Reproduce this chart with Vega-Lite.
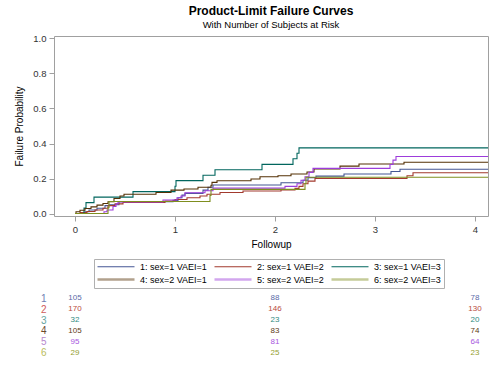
{
  "$schema": "https://vega.github.io/schema/vega-lite/v6.json",
  "background": "white",
  "padding": {"left": 14, "top": 4, "right": 8, "bottom": 4},
  "config": {
    "font": "Liberation Sans",
    "view": {"stroke": null},
    "axis": {"labelColor": "#333333", "titleColor": "#000000", "labelFont": "Liberation Sans", "titleFont": "Liberation Sans", "titleFontWeight": "normal", "labelFontSize": 9.5, "titleFontSize": 10, "tickColor": "#a0a0a0", "domainColor": "#a0a0a0", "grid": false}
  },
  "datasets": {
    "curves": [
      {"g": "1: sex=1 VAEI=1", "t": 0, "p": 0},
      {"g": "1: sex=1 VAEI=1", "t": 0.06, "p": 0.005},
      {"g": "1: sex=1 VAEI=1", "t": 0.10, "p": 0.01},
      {"g": "1: sex=1 VAEI=1", "t": 0.14, "p": 0.02},
      {"g": "1: sex=1 VAEI=1", "t": 0.22, "p": 0.03},
      {"g": "1: sex=1 VAEI=1", "t": 0.30, "p": 0.045},
      {"g": "1: sex=1 VAEI=1", "t": 0.34, "p": 0.05},
      {"g": "1: sex=1 VAEI=1", "t": 0.44, "p": 0.067},
      {"g": "1: sex=1 VAEI=1", "t": 0.98, "p": 0.075},
      {"g": "1: sex=1 VAEI=1", "t": 1.03, "p": 0.09},
      {"g": "1: sex=1 VAEI=1", "t": 1.07, "p": 0.105},
      {"g": "1: sex=1 VAEI=1", "t": 1.10, "p": 0.115},
      {"g": "1: sex=1 VAEI=1", "t": 1.28, "p": 0.134},
      {"g": "1: sex=1 VAEI=1", "t": 1.33, "p": 0.15},
      {"g": "1: sex=1 VAEI=1", "t": 1.38, "p": 0.163},
      {"g": "1: sex=1 VAEI=1", "t": 2.06, "p": 0.176},
      {"g": "1: sex=1 VAEI=1", "t": 2.28, "p": 0.19},
      {"g": "1: sex=1 VAEI=1", "t": 2.33, "p": 0.205},
      {"g": "1: sex=1 VAEI=1", "t": 2.41, "p": 0.214},
      {"g": "1: sex=1 VAEI=1", "t": 2.69, "p": 0.226},
      {"g": "1: sex=1 VAEI=1", "t": 3.16, "p": 0.24},
      {"g": "1: sex=1 VAEI=1", "t": 3.25, "p": 0.253},
      {"g": "1: sex=1 VAEI=1", "t": 4.13, "p": 0.253},
      {"g": "2: sex=1 VAEI=2", "t": 0, "p": 0},
      {"g": "2: sex=1 VAEI=2", "t": 0.05, "p": 0.006},
      {"g": "2: sex=1 VAEI=2", "t": 0.12, "p": 0.012},
      {"g": "2: sex=1 VAEI=2", "t": 0.20, "p": 0.02},
      {"g": "2: sex=1 VAEI=2", "t": 0.28, "p": 0.03},
      {"g": "2: sex=1 VAEI=2", "t": 0.33, "p": 0.045},
      {"g": "2: sex=1 VAEI=2", "t": 0.40, "p": 0.055},
      {"g": "2: sex=1 VAEI=2", "t": 0.48, "p": 0.063},
      {"g": "2: sex=1 VAEI=2", "t": 0.90, "p": 0.072},
      {"g": "2: sex=1 VAEI=2", "t": 1.00, "p": 0.08},
      {"g": "2: sex=1 VAEI=2", "t": 1.12, "p": 0.09},
      {"g": "2: sex=1 VAEI=2", "t": 1.25, "p": 0.1},
      {"g": "2: sex=1 VAEI=2", "t": 1.32, "p": 0.11},
      {"g": "2: sex=1 VAEI=2", "t": 1.45, "p": 0.12},
      {"g": "2: sex=1 VAEI=2", "t": 1.68, "p": 0.129},
      {"g": "2: sex=1 VAEI=2", "t": 2.06, "p": 0.135},
      {"g": "2: sex=1 VAEI=2", "t": 2.20, "p": 0.144},
      {"g": "2: sex=1 VAEI=2", "t": 2.24, "p": 0.155},
      {"g": "2: sex=1 VAEI=2", "t": 2.28, "p": 0.17},
      {"g": "2: sex=1 VAEI=2", "t": 2.33, "p": 0.185},
      {"g": "2: sex=1 VAEI=2", "t": 2.40, "p": 0.2},
      {"g": "2: sex=1 VAEI=2", "t": 3.32, "p": 0.216},
      {"g": "2: sex=1 VAEI=2", "t": 3.38, "p": 0.233},
      {"g": "2: sex=1 VAEI=2", "t": 4.13, "p": 0.233},
      {"g": "3: sex=1 VAEI=3", "t": 0, "p": 0},
      {"g": "3: sex=1 VAEI=3", "t": 0.09, "p": 0.031},
      {"g": "3: sex=1 VAEI=3", "t": 0.11, "p": 0.0625},
      {"g": "3: sex=1 VAEI=3", "t": 0.19, "p": 0.094},
      {"g": "3: sex=1 VAEI=3", "t": 0.58, "p": 0.125},
      {"g": "3: sex=1 VAEI=3", "t": 1.00, "p": 0.156},
      {"g": "3: sex=1 VAEI=3", "t": 1.01, "p": 0.188},
      {"g": "3: sex=1 VAEI=3", "t": 1.28, "p": 0.219},
      {"g": "3: sex=1 VAEI=3", "t": 1.40, "p": 0.25},
      {"g": "3: sex=1 VAEI=3", "t": 1.87, "p": 0.281},
      {"g": "3: sex=1 VAEI=3", "t": 2.18, "p": 0.313},
      {"g": "3: sex=1 VAEI=3", "t": 2.22, "p": 0.344},
      {"g": "3: sex=1 VAEI=3", "t": 2.24, "p": 0.375},
      {"g": "3: sex=1 VAEI=3", "t": 4.13, "p": 0.375},
      {"g": "4: sex=2 VAEI=1", "t": 0, "p": 0},
      {"g": "4: sex=2 VAEI=1", "t": 0.01, "p": 0.01},
      {"g": "4: sex=2 VAEI=1", "t": 0.05, "p": 0.019},
      {"g": "4: sex=2 VAEI=1", "t": 0.10, "p": 0.029},
      {"g": "4: sex=2 VAEI=1", "t": 0.16, "p": 0.038},
      {"g": "4: sex=2 VAEI=1", "t": 0.22, "p": 0.048},
      {"g": "4: sex=2 VAEI=1", "t": 0.28, "p": 0.057},
      {"g": "4: sex=2 VAEI=1", "t": 0.33, "p": 0.067},
      {"g": "4: sex=2 VAEI=1", "t": 0.39, "p": 0.086},
      {"g": "4: sex=2 VAEI=1", "t": 0.45, "p": 0.1},
      {"g": "4: sex=2 VAEI=1", "t": 0.49, "p": 0.11},
      {"g": "4: sex=2 VAEI=1", "t": 0.81, "p": 0.12},
      {"g": "4: sex=2 VAEI=1", "t": 0.96, "p": 0.134},
      {"g": "4: sex=2 VAEI=1", "t": 1.09, "p": 0.14},
      {"g": "4: sex=2 VAEI=1", "t": 1.23, "p": 0.15},
      {"g": "4: sex=2 VAEI=1", "t": 1.36, "p": 0.162},
      {"g": "4: sex=2 VAEI=1", "t": 1.37, "p": 0.178},
      {"g": "4: sex=2 VAEI=1", "t": 1.42, "p": 0.187},
      {"g": "4: sex=2 VAEI=1", "t": 1.76, "p": 0.197},
      {"g": "4: sex=2 VAEI=1", "t": 1.85, "p": 0.21},
      {"g": "4: sex=2 VAEI=1", "t": 2.03, "p": 0.216},
      {"g": "4: sex=2 VAEI=1", "t": 2.16, "p": 0.226},
      {"g": "4: sex=2 VAEI=1", "t": 2.32, "p": 0.237},
      {"g": "4: sex=2 VAEI=1", "t": 2.39, "p": 0.254},
      {"g": "4: sex=2 VAEI=1", "t": 2.65, "p": 0.271},
      {"g": "4: sex=2 VAEI=1", "t": 2.84, "p": 0.283},
      {"g": "4: sex=2 VAEI=1", "t": 3.29, "p": 0.293},
      {"g": "4: sex=2 VAEI=1", "t": 4.13, "p": 0.293},
      {"g": "5: sex=2 VAEI=2", "t": 0, "p": 0},
      {"g": "5: sex=2 VAEI=2", "t": 0.29, "p": 0.01},
      {"g": "5: sex=2 VAEI=2", "t": 0.32, "p": 0.02},
      {"g": "5: sex=2 VAEI=2", "t": 0.38, "p": 0.04},
      {"g": "5: sex=2 VAEI=2", "t": 0.41, "p": 0.055},
      {"g": "5: sex=2 VAEI=2", "t": 0.43, "p": 0.066},
      {"g": "5: sex=2 VAEI=2", "t": 0.88, "p": 0.077},
      {"g": "5: sex=2 VAEI=2", "t": 1.02, "p": 0.09},
      {"g": "5: sex=2 VAEI=2", "t": 1.06, "p": 0.1},
      {"g": "5: sex=2 VAEI=2", "t": 1.10, "p": 0.119},
      {"g": "5: sex=2 VAEI=2", "t": 1.30, "p": 0.13},
      {"g": "5: sex=2 VAEI=2", "t": 1.38, "p": 0.145},
      {"g": "5: sex=2 VAEI=2", "t": 2.10, "p": 0.155},
      {"g": "5: sex=2 VAEI=2", "t": 2.22, "p": 0.17},
      {"g": "5: sex=2 VAEI=2", "t": 2.26, "p": 0.19},
      {"g": "5: sex=2 VAEI=2", "t": 2.30, "p": 0.21},
      {"g": "5: sex=2 VAEI=2", "t": 2.34, "p": 0.235},
      {"g": "5: sex=2 VAEI=2", "t": 2.38, "p": 0.258},
      {"g": "5: sex=2 VAEI=2", "t": 3.15, "p": 0.28},
      {"g": "5: sex=2 VAEI=2", "t": 3.18, "p": 0.305},
      {"g": "5: sex=2 VAEI=2", "t": 3.21, "p": 0.326},
      {"g": "5: sex=2 VAEI=2", "t": 4.13, "p": 0.326},
      {"g": "6: sex=2 VAEI=3", "t": 0, "p": 0},
      {"g": "6: sex=2 VAEI=3", "t": 0.33, "p": 0.034},
      {"g": "6: sex=2 VAEI=3", "t": 0.34, "p": 0.069},
      {"g": "6: sex=2 VAEI=3", "t": 1.35, "p": 0.103},
      {"g": "6: sex=2 VAEI=3", "t": 1.36, "p": 0.138},
      {"g": "6: sex=2 VAEI=3", "t": 2.30, "p": 0.172},
      {"g": "6: sex=2 VAEI=3", "t": 2.31, "p": 0.207},
      {"g": "6: sex=2 VAEI=3", "t": 4.13, "p": 0.207}
    ],
    "risk": [
      {"g": "1: sex=1 VAEI=1", "t": 0, "n": 105},
      {"g": "1: sex=1 VAEI=1", "t": 2, "n": 88},
      {"g": "1: sex=1 VAEI=1", "t": 4, "n": 78},
      {"g": "2: sex=1 VAEI=2", "t": 0, "n": 170},
      {"g": "2: sex=1 VAEI=2", "t": 2, "n": 146},
      {"g": "2: sex=1 VAEI=2", "t": 4, "n": 130},
      {"g": "3: sex=1 VAEI=3", "t": 0, "n": 32},
      {"g": "3: sex=1 VAEI=3", "t": 2, "n": 23},
      {"g": "3: sex=1 VAEI=3", "t": 4, "n": 20},
      {"g": "4: sex=2 VAEI=1", "t": 0, "n": 105},
      {"g": "4: sex=2 VAEI=1", "t": 2, "n": 83},
      {"g": "4: sex=2 VAEI=1", "t": 4, "n": 74},
      {"g": "5: sex=2 VAEI=2", "t": 0, "n": 95},
      {"g": "5: sex=2 VAEI=2", "t": 2, "n": 81},
      {"g": "5: sex=2 VAEI=2", "t": 4, "n": 64},
      {"g": "6: sex=2 VAEI=3", "t": 0, "n": 29},
      {"g": "6: sex=2 VAEI=3", "t": 2, "n": 25},
      {"g": "6: sex=2 VAEI=3", "t": 4, "n": 23}
    ]
  },
  "vconcat": [
    {
      "title": {"text": "Product-Limit Failure Curves", "subtitle": "With Number of Subjects at Risk", "fontSize": 12, "fontWeight": "bold", "subtitleFontSize": 9.5, "anchor": "middle", "frame": "group", "offset": 3, "subtitlePadding": 2, "color": "#000000", "subtitleColor": "#000000", "font": "Liberation Sans", "subtitleFont": "Liberation Sans"},
      "width": 434,
      "height": 180,
      "view": {"stroke": "#a0a0a0"},
      "data": {"name": "curves"},
      "mark": {"type": "line", "interpolate": "step-after", "strokeWidth": 1.1, "clip": true},
      "encoding": {
        "x": {"field": "t", "type": "quantitative", "scale": {"domain": [-0.21, 4.13], "nice": false, "zero": false}, "axis": {"values": [0, 1, 2, 3, 4], "title": "Followup", "domain": false, "tickSize": 5, "labelPadding": 3, "titlePadding": 6}},
        "y": {"field": "p", "type": "quantitative", "scale": {"domain": [-0.014, 1.014], "nice": false, "zero": false}, "axis": {"values": [0, 0.2, 0.4, 0.6, 0.8, 1.0], "format": ".1f", "title": "Failure Probability", "domain": false, "tickSize": 5, "labelPadding": 3, "titlePadding": 8}},
        "color": {
          "field": "g", "type": "nominal",
          "scale": {"domain": ["1: sex=1 VAEI=1", "2: sex=1 VAEI=2", "3: sex=1 VAEI=3", "4: sex=2 VAEI=1", "5: sex=2 VAEI=2", "6: sex=2 VAEI=3"], "range": ["#445694", "#A23A2E", "#01665E", "#543005", "#9D3CDB", "#7F8E1F"]},
          "legend": {"orient": "none", "legendX": 40, "legendY": 223, "direction": "horizontal", "columns": 3, "title": null, "symbolType": "M-1,0H8.25", "symbolSize": 64, "symbolStrokeWidth": {"expr": "datum.index >= 3 ? 2.5 : 1.2"}, "symbolOpacity": {"expr": "datum.index >= 3 ? 0.45 : 1"}, "labelFontSize": 9, "labelColor": "#000000", "labelFont": "Liberation Sans", "labelOffset": 34, "columnPadding": 2, "rowPadding": 2, "padding": 3, "strokeColor": "#b0b0b0", "labelLimit": 200}
        }
      }
    },
    {
      "width": 434,
      "height": 65,
      "data": {"name": "risk"},
      "mark": {"type": "text", "fontSize": 8, "baseline": "middle", "font": "Liberation Sans"},
      "encoding": {
        "x": {"field": "t", "type": "quantitative", "scale": {"domain": [-0.21, 4.13], "nice": false, "zero": false}, "axis": null},
        "y": {"field": "g", "type": "nominal", "sort": ["1: sex=1 VAEI=1", "2: sex=1 VAEI=2", "3: sex=1 VAEI=3", "4: sex=2 VAEI=1", "5: sex=2 VAEI=2", "6: sex=2 VAEI=3"], "axis": {"title": null, "domain": false, "ticks": false, "labelPadding": 8, "labelFontSize": 10, "labelExpr": "substring(datum.value, 0, 1)", "labelColor": {"expr": "substring(datum.value,0,1) == '1' ? '#6F7EB3' : substring(datum.value,0,1) == '2' ? '#D05B5B' : substring(datum.value,0,1) == '3' ? '#66A5A0' : substring(datum.value,0,1) == '4' ? '#6b4a2a' : substring(datum.value,0,1) == '5' ? '#B689CD' : '#BABC5C'"}}},
        "text": {"field": "n", "type": "quantitative"},
        "color": {"field": "g", "type": "nominal", "scale": {"domain": ["1: sex=1 VAEI=1", "2: sex=1 VAEI=2", "3: sex=1 VAEI=3", "4: sex=2 VAEI=1", "5: sex=2 VAEI=2", "6: sex=2 VAEI=3"], "range": ["#5a6aa8", "#b84a40", "#2f8a80", "#5e3a14", "#a855e0", "#95a030"]}, "legend": null}
      }
    }
  ],
  "spacing": 4,
  "resolve": {"scale": {"color": "independent"}, "legend": {"color": "independent"}}
}
